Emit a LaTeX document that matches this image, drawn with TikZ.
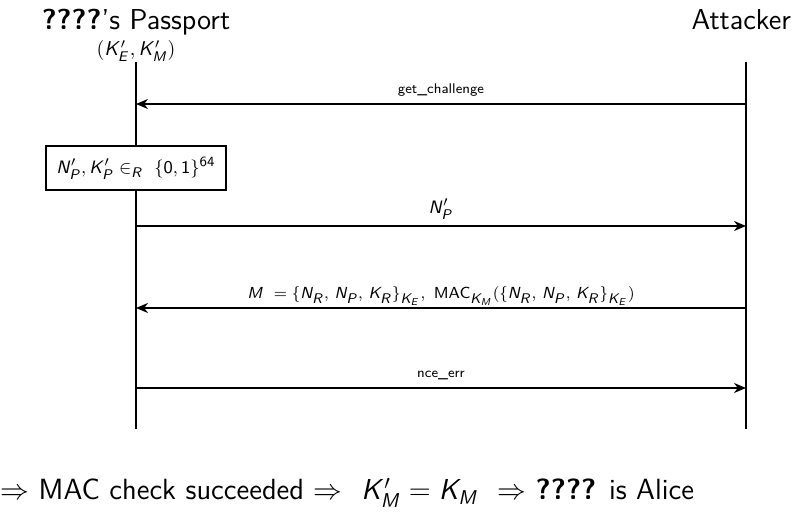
\documentclass[tikz,border=0pt]{standalone}
\usetikzlibrary{arrows.meta}
\renewcommand{\familydefault}{\sfdefault}
\DeclareMathAlphabet{\mathssi}{OT1}{cmss}{m}{sl}
\DeclareMathSizes{9}{9}{7}{6}
\DeclareMathSizes{8.5}{8.5}{6.8}{5.5}
\DeclareMathSizes{10}{10}{7.5}{6}
\newcommand{\sv}[1]{\mathssi{#1}}
\tikzset{
  life/.style={line width=1pt},
  msg/.style={line width=1pt,-{Stealth[length=6pt,width=5pt]}},
  lbl/.style={inner sep=1pt,anchor=base},
  proc/.style={draw,line width=1pt,fill=white,inner sep=4pt,minimum width=90pt,minimum height=22pt},
}
\begin{document}
\begin{tikzpicture}[x=0.5pt,y=-0.5pt,font=\sffamily]
\useasboundingbox (0,0) rectangle (800,512);
% headers
\node[anchor=base,font=\sffamily\fontsize{14.4}{16}\selectfont] (pp) at (136,30) {\textbf{????}'s Passport};
\node[anchor=base,font=\sffamily\fontsize{10}{12}\selectfont] (ppk) at (136,56) {$(\sv{K}'_{\sv{E}},\sv{K}'_{\sv{M}})$};
\node[anchor=base east,font=\sffamily\fontsize{14.4}{16}\selectfont] (att) at (798,30) {Attacker};
% lifelines
\coordinate (pt) at (136,62); \coordinate (pb) at (136,429);
\coordinate (at) at (746,62); \coordinate (ab) at (746,429);
\draw[life] (pt) -- (pb);
\draw[life] (at) -- (ab);
% messages
\coordinate (a1) at (746,104); \coordinate (p1) at (136,104);
\draw[msg] (a1) -- (p1);
\node[lbl,font=\sffamily\fontsize{7}{8}\selectfont] (l1) at (441,94) {get\_challenge};

\node[proc,font=\sffamily\fontsize{9}{11}\selectfont] (box) at (136,168) {$\sv{N}'_{\sv{P}},\sv{K}'_{\sv{P}}\in_{\sv{R}}\ \{\mathsf{0},\mathsf{1}\}^{\mathsf{64}}$};

\coordinate (p2) at (136,226); \coordinate (a2) at (746,226);
\draw[msg] (p2) -- (a2);
\node[lbl,font=\sffamily\fontsize{9}{11}\selectfont] (l2) at (441,214) {$\sv{N}'_{\sv{P}}$};

\coordinate (a3) at (746,308); \coordinate (p3) at (136,308);
\draw[msg] (a3) -- (p3);
\node[lbl,font=\sffamily\fontsize{8.5}{10}\selectfont] (l3) at (441,299) {$\sv{M}\ =\{\sv{N}_{\sv{R}},\,\sv{N}_{\sv{P}},\,\sv{K}_{\sv{R}}\}_{\sv{K}_{\sv{E}}},\ \mathsf{MAC}_{\sv{K}_{\sv{M}}}(\{\sv{N}_{\sv{R}},\,\sv{N}_{\sv{P}},\,\sv{K}_{\sv{R}}\}_{\sv{K}_{\sv{E}}})$};

\coordinate (p4) at (136,388); \coordinate (a4) at (746,388);
\draw[msg] (p4) -- (a4);
\node[lbl,font=\sffamily\fontsize{7}{8}\selectfont] (l4) at (441,378) {nce\_err};

% conclusion
\node[anchor=base west,inner sep=0pt,font=\sffamily\fontsize{14.6}{16}\selectfont] (concl) at (0,500) {$\Rightarrow$ MAC check succeeded $\Rightarrow$\ \ $\sv{K}'_{\sv{M}}=\sv{K}_{\sv{M}}$\ \ $\Rightarrow$ \textbf{????} is Alice};
\end{tikzpicture}
\end{document}
